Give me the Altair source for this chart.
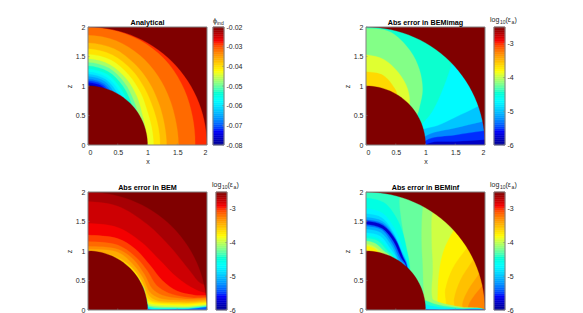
import numpy as np
import pandas as pd
import altair as alt

ANGLES = [0, 15, 30, 45, 60, 75, 90]

# Analytical: band value and outer-edge radius at each of ANGLES
P1_BASE = -0.0283
P1_VALUES = [-0.0313, -0.0343, -0.0373, -0.0403, -0.0433, -0.0468, -0.0503, -0.0533, -0.0563,
             -0.0593, -0.0623, -0.0653, -0.0683, -0.0713, -0.0743, -0.0773, -0.0803]
P1_RADII = [
    [1.80, 1.82, 1.87, 1.93, 1.97, 1.99, 2.00],
    [1.52, 1.53, 1.58, 1.66, 1.75, 1.83, 1.86],
    [1.32, 1.33, 1.38, 1.47, 1.58, 1.69, 1.73],
    [1.21, 1.22, 1.26, 1.35, 1.47, 1.58, 1.63],
    [1.10, 1.11, 1.15, 1.25, 1.37, 1.49, 1.54],
    [0.98, 1.00, 1.05, 1.16, 1.29, 1.41, 1.46],
    [0.90, 0.92, 0.98, 1.08, 1.22, 1.35, 1.40],
    [0.80, 0.82, 0.90, 1.02, 1.16, 1.29, 1.34],
    [0.70, 0.75, 0.83, 0.96, 1.10, 1.24, 1.29],
    [0.70, 0.70, 0.78, 0.90, 1.05, 1.19, 1.24],
    [0.60, 0.60, 0.70, 0.85, 1.00, 1.15, 1.20],
    [0.60, 0.60, 0.65, 0.80, 0.95, 1.11, 1.16],
    [0.50, 0.50, 0.60, 0.75, 0.90, 1.07, 1.12],
    [0.50, 0.50, 0.55, 0.70, 0.85, 1.04, 1.09],
    [0.50, 0.50, 0.50, 0.65, 0.80, 1.01, 1.06],
    [0.40, 0.40, 0.45, 0.60, 0.75, 0.97, 1.03],
    [0.40, 0.40, 0.40, 0.55, 0.70, 0.94, 1.01],
]

# BEMimag: value of the region up-left of each curve
P2_BASE = -5.79
P2_CURVES = [
    (-5.52, [(2.6, 3), (2.6, .14), (1.97, .09), (1.5, .06), (1.05, .03), (.8, -.2)]),
    (-5.25, [(2.6, 3), (2.6, .32), (1.97, .24), (1.5, .17), (1.05, .10), (.8, -.1)]),
    (-4.98, [(2.6, 3), (2.6, .55), (1.96, .40), (1.5, .29), (1.05, .18), (.8, 0)]),
    (-4.71, [(2.6, 3), (2.4, .95), (1.89, .66), (1.5, .47), (1.2, .33), (.97, .27), (.7, .1)]),
    (-4.44, [(1.7, 3), (1.6, 2.0), (1.44, 1.38), (1.25, .85), (1.1, .55), (.95, .37), (.7, .1)]),
    (-4.17, [(-.3, 1.98), (0, 1.98), (.4, 1.92), (.74, 1.6), (.9, 1.27), (.95, .93), (.9, .65), (.86, .51), (.7, .2)]),
    (-3.90, [(-.3, 1.53), (0, 1.53), (.3, 1.45), (.55, 1.22), (.7, .95), (.73, .68), (.6, .3)]),
    (-3.63, [(-.3, 1.24), (0, 1.24), (.29, 1.18), (.48, .96), (.52, .85), (.4, .3)]),
]

# BEM: value of the region below each curve
P3_BASE = -2.64
P3_CURVES = [
    (-2.77, [(-.3, 1.84), (0, 1.84), (.5, 1.76), (1.0, 1.45), (1.4, 1.05), (1.7, .68), (1.9, .45), (2.4, .3)]),
    (-2.90, [(-.3, 1.47), (0, 1.47), (.5, 1.40), (.9, 1.15), (1.2, .85), (1.5, .55), (1.8, .35), (2.0, .28), (2.4, .24)]),
    (-3.03, [(-.3, 1.27), (0, 1.27), (.5, 1.21), (.8, 1.03), (1.05, .75), (1.25, .50), (1.5, .32), (1.8, .25), (2.4, .2)]),
    (-3.16, [(-.3, 1.16), (0, 1.16), (.5, 1.10), (.8, .9), (1.0, .66), (1.15, .42), (1.35, .29), (1.7, .21), (2.4, .16)]),
    (-3.29, [(-.3, 1.08), (0, 1.08), (.5, 1.03), (.75, .87), (.95, .6), (1.08, .36), (1.25, .25), (1.6, .19), (2.4, .13)]),
    (-3.42, [(-.3, 1.03), (0, 1.03), (.5, .98), (.73, .8), (.92, .55), (1.04, .30), (1.2, .2), (1.6, .16), (2.4, .11)]),
    (-3.55, [(-.3, .98), (.4, .93), (.7, .76), (.9, .5), (1.02, .25), (1.15, .16), (1.6, .13), (2.4, .095)]),
    (-3.68, [(-.3, .8), (.5, .85), (.75, .69), (.92, .43), (1.01, .2), (1.12, .14), (1.6, .11), (2.4, .08)]),
    (-3.81, [(-.3, .7), (.7, .7), (.9, .43), (1.0, .16), (1.09, .12), (1.6, .09), (2.4, .065)]),
    (-3.94, [(-.3, .5), (.8, .58), (.93, .35), (1.0, .13), (1.07, .10), (1.6, .07), (2.4, .05)]),
    (-4.20, [(-.3, .3), (.9, .42), (.97, .24), (1.0, .1), (1.05, .07), (1.6, .045), (2.4, .035)]),
    (-4.60, [(-.3, .2), (.97, .2), (1.0, .07), (1.04, .045), (1.6, .028), (2.4, .022)]),
    (-5.40, [(-.3, .1), (.99, .1), (1.0, .03), (1.03, .014), (1.6, .012), (2.4, .01)]),
]

# BEMinf: value of the region up-left of each curve, then wedge regions below a curve
P4_BASE = -3.25
P4_CURVES = [
    (-3.39, [(2.6, 3), (2.3, .8), (1.96, .42), (1.8, .22), (1.72, .08), (1.68, -.1)]),
    (-3.52, [(2.6, 3), (2.2, 1.1), (1.9, .62), (1.72, .35), (1.62, .12), (1.6, -.1)]),
    (-3.64, [(2.6, 3), (2.1, 1.3), (1.8, .85), (1.58, .5), (1.48, .2), (1.45, -.1)]),
    (-3.76, [(2.4, 3), (1.95, 1.4), (1.69, 1.05), (1.45, .7), (1.33, .35), (1.3, -.1)]),
    (-3.95, [(2.2, 3), (1.7, 1.7), (1.47, 1.35), (1.3, 1.0), (1.22, .6), (1.2, .2), (1.18, -.1)]),
    (-4.10, [(1.5, 3), (1.25, 1.9), (1.12, 1.66), (1.1, 1.2), (1.12, .7), (1.1, .35), (1.08, -.1)]),
    (-4.25, [(1.1, 3), (1.0, 2.0), (.95, 1.72), (.93, 1.2), (.95, .75), (.96, .4), (.95, -.1)]),
    (-4.39, [(.7, 3), (.6, 2.1), (.56, 1.88), (.58, 1.6), (.62, 1.33), (.66, 1.0), (.7, .72), (.7, .3)]),
    (-4.53, [(-.3, 1.9), (0, 1.9), (.3, 1.82), (.5, 1.58), (.62, 1.3), (.69, 1.0), (.73, .77), (.7, .3)]),
    (-4.75, [(-.3, 1.72), (0, 1.72), (.28, 1.64), (.48, 1.38), (.6, 1.1), (.68, .85), (.72, .74), (.7, .3)]),
    (-4.90, [(-.3, 1.63), (0, 1.63), (.27, 1.56), (.45, 1.33), (.58, 1.04), (.7, .76), (.7, .3)]),
    (-5.10, [(-.3, 1.57), (0, 1.57), (.28, 1.5), (.47, 1.27), (.6, .98), (.69, .76), (.7, .3)]),
    (-5.36, [(-.3, 1.53), (0, 1.53), (.28, 1.46), (.48, 1.23), (.61, .93), (.685, .76), (.68, .3)]),
    (-5.75, [(-.3, 1.51), (0, 1.51), (.29, 1.43), (.49, 1.2), (.62, .9), (.68, .76), (.68, .3)]),
    (-5.36, [(-.3, 1.45), (0, 1.45), (.27, 1.38), (.46, 1.16), (.59, .88), (.67, .75), (.6, .3)]),
    (-5.10, [(-.3, 1.42), (0, 1.42), (.26, 1.36), (.44, 1.13), (.57, .86), (.66, .75), (.6, .3)]),
    (-4.90, [(-.3, 1.37), (0, 1.37), (.25, 1.31), (.42, 1.1), (.55, .83), (.62, .7), (.6, .3)]),
    (-4.75, [(-.3, 1.31), (0, 1.31), (.24, 1.25), (.4, 1.05), (.53, .83), (.5, .3)]),
    (-4.53, [(-.3, 1.26), (0, 1.26), (.22, 1.2), (.37, 1.03), (.5, .85), (.45, .3)]),
    (-4.39, [(-.3, 1.22), (0, 1.22), (.2, 1.17), (.34, 1.02), (.46, .88), (.4, .3)]),
    (-4.10, [(-.3, 1.17), (0, 1.17), (.15, 1.13), (.3, 1.0), (.4, .91), (.35, .3)]),
    (-3.95, [(-.3, 1.12), (0, 1.12), (.13, 1.08), (.25, .99), (.3, .95), (.25, .3)]),
    (-3.76, [(-.3, 1.08), (0, 1.08), (.12, 1.05), (.2, .98), (.15, .3)]),
]
P4_WEDGES = [
    (-4.10, [(.5, .4), (.95, .28), (1.2, .14), (1.6, .05), (2.0, .0), (2.1, -.2)]),
    (-4.40, [(.5, .3), (.95, .18), (1.2, .09), (1.6, .03), (2.0, .0), (2.1, -.2)]),
    (-4.75, [(.5, .2), (.95, .10), (1.2, .05), (1.6, .018), (2.0, .0), (2.1, -.2)]),
    (-5.50, [(.5, .1), (.95, .015), (1.9, .012), (2.0, .0), (2.1, -.2)]),
]

TITLES = ["Analytical", "Abs error in BEMimag", "Abs error in BEM", "Abs error in BEMinf"]
TICKS = [0, 0.5, 1, 1.5, 2]
BAR_TICKS_PHI = [-0.08, -0.07, -0.06, -0.05, -0.04, -0.03, -0.02]
BAR_TICKS_LOG = [-6, -5, -4, -3]
JET_STOPS = [0, 0.125, 0.375, 0.625, 0.875, 1]
JET_COLORS = ["#000090", "#0000ff", "#00ffff", "#ffff00", "#ff0000", "#800000"]

TEXT = "#262626"
FRAME = "#808080"
FONT = "Liberation Sans"
W, H, BW = 119, 118, 11
INDEP = dict(color="independent", fill="independent", stroke="independent")
AX = alt.Scale(domain=[0, 2], nice=False)


def jet(vmin, vmax):
    return alt.Scale(domain=[vmin + t * (vmax - vmin) for t in JET_STOPS], range=JET_COLORS, clamp=True)


def polar_rows(radii):
    a = list(ANGLES)
    r = list(radii)
    aa = [-15] + a + [105]
    rr = [r[0]] + r + [r[-1]]
    return [(q * np.cos(np.radians(t)), q * np.sin(np.radians(t))) for t, q in zip(aa, rr)]


def rows_for(regions):
    rows = []
    for i, (v, pts) in enumerate(regions):
        for j, (x, z) in enumerate(list(pts) + [(-.5, -.5)]):
            rows.append(dict(id=i, o=j, x=x, z=z, v=v))
    return pd.DataFrame(rows)


def frame(w, h):
    spec = [(0, 0, w, 0), (0, h, w, h), (0, 0, 0, h), (w, 0, w, h)]
    return [alt.Chart(pd.DataFrame({"k": [0]})).mark_rule(color=FRAME, strokeWidth=1).encode(
        x=alt.value(a), y=alt.value(b), x2=alt.value(c), y2=alt.value(d)) for a, b, c, d in spec]


def panel(regions, title, vmin, vmax):
    ax_x = alt.Axis(values=TICKS, format="~g", tickSize=0, labelPadding=3, grid=False, domain=False,
                    titlePadding=2, labelOverlap=False, title="x")
    ax_y = alt.Axis(values=TICKS, format="~g", tickSize=0, labelPadding=3, grid=False, domain=False,
                    titlePadding=3, labelOverlap=False, title="z")
    xs = alt.X("x:Q", scale=AX, axis=ax_x)
    ys = alt.Y("z:Q", scale=AX, axis=ax_y)
    sc = jet(vmin, vmax)
    bands = alt.Chart(rows_for(regions)).mark_line(
        interpolate="catmull-rom", clip=True, filled=True, strokeWidth=0.3
    ).encode(
        x=xs, y=ys, detail="id:N", order="o:Q",
        fill=alt.Fill("v:Q", scale=sc, legend=None),
        stroke=alt.Stroke("v:Q", scale=sc, legend=None),
    )
    arc = np.radians(np.arange(90, -1, -3))
    outer = [(2 * np.cos(t), 2 * np.sin(t)) for t in arc] + [(2.6, 0), (2.6, 2.6), (0, 2.6)]
    inner = [(np.cos(t), np.sin(t)) for t in arc] + [(0, 0)]
    masks = pd.DataFrame(
        [dict(id=0, o=j, x=x, z=z) for j, (x, z) in enumerate(outer)]
        + [dict(id=1, o=j, x=x, z=z) for j, (x, z) in enumerate(inner)]
    )
    mask = alt.Chart(masks).mark_line(
        clip=True, filled=True, fill="#800000", stroke="#800000", strokeWidth=0.3
    ).encode(x=xs, y=ys, detail="id:N", order="o:Q")
    layers = [bands, mask]
    for t in TICKS:
        layers.append(alt.Chart(pd.DataFrame({"x": [t]})).mark_rule(color=FRAME, strokeWidth=0.5).encode(
            x=xs, y=alt.value(H), y2=alt.value(H - 1.5)))
        layers.append(alt.Chart(pd.DataFrame({"z": [t]})).mark_rule(color=FRAME, strokeWidth=0.5).encode(
            y=ys, x=alt.value(0), x2=alt.value(1.5)))
    layers.extend(frame(W, H))
    return alt.layer(*layers).properties(
        width=W, height=H,
        title=alt.TitleParams(title, fontSize=7.2, fontWeight="bold", font=FONT, color="#000000", offset=-3),
    )


def colorbar(vmin, vmax, ticks, expr, pieces):
    n = 64
    edges = np.linspace(vmin, vmax, n + 1)
    df = pd.DataFrame({"lo": edges[:-1], "hi": edges[1:]})
    df["v"] = (df.lo + df.hi) / 2
    y = alt.Y("lo:Q", scale=alt.Scale(domain=[vmin, vmax], nice=False),
              axis=alt.Axis(values=ticks, labelExpr=expr, orient="right", tickSize=0, labelPadding=2, grid=False,
                            domain=False, labelOverlap=False, title=None))
    sc = jet(vmin, vmax)
    cells = alt.Chart(df).mark_rect(strokeWidth=0.5).encode(
        x=alt.value(0), x2=alt.value(BW), y=y, y2="hi:Q",
        fill=alt.Fill("v:Q", scale=sc, legend=None),
        stroke=alt.Stroke("v:Q", scale=sc, legend=None),
    )
    layers = [cells]
    for t in ticks:
        layers.append(alt.Chart(pd.DataFrame({"lo": [t]})).mark_rule(color=FRAME, strokeWidth=0.5).encode(
            y=y, x=alt.value(BW - 2), x2=alt.value(BW)))
    layers.extend(frame(BW, H))
    for text, px, py, size in pieces:
        layers.append(alt.Chart(pd.DataFrame({"k": [0]})).mark_text(
            text=text, align="left", baseline="alphabetic", fontSize=size, font=FONT, color=TEXT
        ).encode(x=alt.value(px), y=alt.value(py)))
    return alt.layer(*layers).properties(width=BW, height=H)


PHI_TEXT = [("ϕ", 0, -4, 7), ("ind", 4, -2, 5)]
LOG_TEXT = [("log", -4, -5, 7), ("10", 6, -3, 5), ("(ε", 11.5, -5, 7), ("a", 17.5, -3, 5), (")", 20.5, -5, 7)]
PHI_EXPR = "'-' + format(-datum.value, '.2f')"
LOG_EXPR = "'-' + format(-datum.value, 'd')"

ALL = [(-1, 3), (3, 3), (3, -1)]
p1 = [(P1_BASE, ALL)] + [(v, polar_rows(r)) for v, r in zip(P1_VALUES, P1_RADII)]
p2 = [(P2_BASE, ALL)] + [(v, [(-.5, 3)] + pts) for v, pts in P2_CURVES]
p3 = [(P3_BASE, ALL)] + [(v, pts + [(2.6, -.5)]) for v, pts in P3_CURVES]
p4 = [(P4_BASE, ALL)] + [
    (v, ([(-.5, 3)] + pts) if pts[0][0] > 0 else pts) for v, pts in P4_CURVES
] + [(v, pts + [(.5, -.5)]) for v, pts in P4_WEDGES]


def pair(main, bar):
    return alt.hconcat(main, bar, spacing=4).resolve_scale(**INDEP)


top = alt.hconcat(
    pair(panel(p1, TITLES[0], -0.08, -0.02), colorbar(-0.08, -0.02, BAR_TICKS_PHI, PHI_EXPR, PHI_TEXT)),
    pair(panel(p2, TITLES[1], -6, -2.5), colorbar(-6, -2.5, BAR_TICKS_LOG, LOG_EXPR, LOG_TEXT)),
    spacing=101,
).resolve_scale(**INDEP)
bottom = alt.hconcat(
    pair(panel(p3, TITLES[2], -6, -2.5), colorbar(-6, -2.5, BAR_TICKS_LOG, LOG_EXPR, LOG_TEXT)),
    pair(panel(p4, TITLES[3], -6, -2.5), colorbar(-6, -2.5, BAR_TICKS_LOG, LOG_EXPR, LOG_TEXT)),
    spacing=104,
).resolve_scale(**INDEP)
chart = alt.vconcat(top, bottom, spacing=17).resolve_scale(**INDEP).properties(
    padding={"left": 57, "top": 8, "right": 0, "bottom": 0}
).configure_view(stroke=None).configure_axis(
    labelFont=FONT, titleFont=FONT, labelFontSize=7, titleFontSize=7, labelColor=TEXT, titleColor=TEXT,
    titleFontWeight="normal",
)

chart.save("out.html", embed_options={"renderer": "svg", "actions": False})
